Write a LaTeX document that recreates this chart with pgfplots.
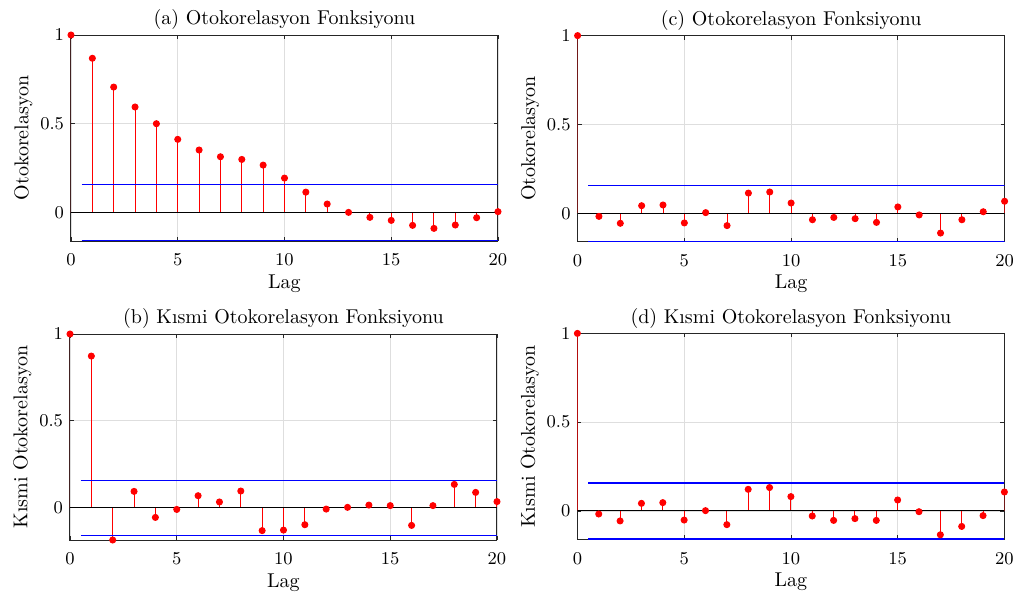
\documentclass[border=0pt]{standalone}
\usepackage{pgfplots}
\pgfplotsset{compat=1.18}
\definecolor{axgray}{rgb}{0.15,0.15,0.15}
\definecolor{gridgray}{rgb}{0.87,0.87,0.87}
\pgfplotsset{
  acf/.style={
    scale only axis, width=213.5pt, height=103pt,
    xmin=0, xmax=20, ymax=1,
    xtick={0,5,10,15,20}, ytick={0,0.5,1},
    grid=major, grid style={color=gridgray, line width=0.4pt},
    tick align=inside, major tick length=2pt,
    axis line style={color=axgray, line width=0.5pt},
    tick style={color=axgray, line width=0.4pt},
    ticklabel style={font=\fontsize{9.5}{11}\selectfont},
    xticklabel style={yshift=-3pt},
    label style={font=\fontsize{10}{12}\selectfont},
    title style={font=\fontsize{10}{12}\selectfont, yshift=-7pt},
    xlabel={Lag},
    xlabel style={yshift=2.5pt},
    ylabel style={yshift=-3pt},
    axis background/.style={fill=white},
  },
  stem/.style={red, line width=0.5pt, ycomb, mark=*, mark size=1.5pt, mark options={fill=red, draw=red}},
  zline/.style={black, line width=0.5pt, forget plot},
  bline/.style={blue, line width=0.6pt, forget plot},
}
\begin{document}
\begin{tikzpicture}
\path[use as bounding box] (0,0) rectangle (506.5pt,-297pt);
% (a)
\begin{axis}[acf, at={(35.5pt,-120.5pt)}, anchor=south west, ymin=-0.159,
  title={(a) Otokorelasyon Fonksiyonu}, ylabel={Otokorelasyon}]
\addplot[stem] coordinates {(0,1) (1,0.869) (2,0.707) (3,0.595) (4,0.501) (5,0.413) (6,0.353) (7,0.315) (8,0.300) (9,0.268) (10,0.195) (11,0.116) (12,0.049) (13,0.002) (14,-0.026) (15,-0.043) (16,-0.071) (17,-0.088) (18,-0.069) (19,-0.028) (20,0.006)};
\addplot[zline] coordinates {(0,0) (20,0)};
\addplot[bline] coordinates {(0.5,0.158) (20,0.158)};
\addplot[bline] coordinates {(0.5,-0.158) (20,-0.158)};
\end{axis}
% (c)
\begin{axis}[acf, at={(288.8pt,-120.8pt)}, anchor=south west, ymin=-0.159,
  title={(c) Otokorelasyon Fonksiyonu}, ylabel={Otokorelasyon}]
\addplot[stem] coordinates {(0,1) (1,-0.017) (2,-0.056) (3,0.043) (4,0.047) (5,-0.054) (6,0.004) (7,-0.069) (8,0.114) (9,0.120) (10,0.058) (11,-0.036) (12,-0.023) (13,-0.030) (14,-0.051) (15,0.036) (16,-0.009) (17,-0.111) (18,-0.036) (19,0.009) (20,0.068)};
\addplot[zline] coordinates {(0,0) (20,0)};
\addplot[bline] coordinates {(0.5,0.158) (20,0.158)};
\addplot[bline] coordinates {(0.5,-0.158) (20,-0.158)};
\end{axis}
% (b)
\begin{axis}[acf, at={(35pt,-270pt)}, anchor=south west, ymin=-0.186,
  title={(b) Kısmi Otokorelasyon Fonksiyonu}, ylabel={Kısmi Otokorelasyon}]
\addplot[stem] coordinates {(0,1) (1,0.873) (2,-0.186) (3,0.094) (4,-0.056) (5,-0.010) (6,0.069) (7,0.033) (8,0.096) (9,-0.132) (10,-0.129) (11,-0.098) (12,-0.008) (13,0.002) (14,0.015) (15,0.012) (16,-0.102) (17,0.012) (18,0.134) (19,0.088) (20,0.035)};
\addplot[zline] coordinates {(0,0) (20,0)};
\addplot[bline] coordinates {(0.5,0.158) (20,0.158)};
\addplot[bline] coordinates {(0.5,-0.158) (20,-0.158)};
\end{axis}
% (d)
\begin{axis}[acf, at={(288.7pt,-269.7pt)}, anchor=south west, ymin=-0.16,
  title={(d) Kısmi Otokorelasyon Fonksiyonu}, ylabel={Kısmi Otokorelasyon}]
\addplot[stem] coordinates {(0,1) (1,-0.017) (2,-0.056) (3,0.043) (4,0.047) (5,-0.051) (6,0.002) (7,-0.077) (8,0.122) (9,0.132) (10,0.081) (11,-0.028) (12,-0.053) (13,-0.043) (14,-0.053) (15,0.062) (16,-0.004) (17,-0.134) (18,-0.087) (19,-0.026) (20,0.107)};
\addplot[zline] coordinates {(0,0) (20,0)};
\addplot[bline] coordinates {(0.5,0.158) (20,0.158)};
\addplot[bline] coordinates {(0.5,-0.158) (20,-0.158)};
\end{axis}
\end{tikzpicture}
\end{document}
